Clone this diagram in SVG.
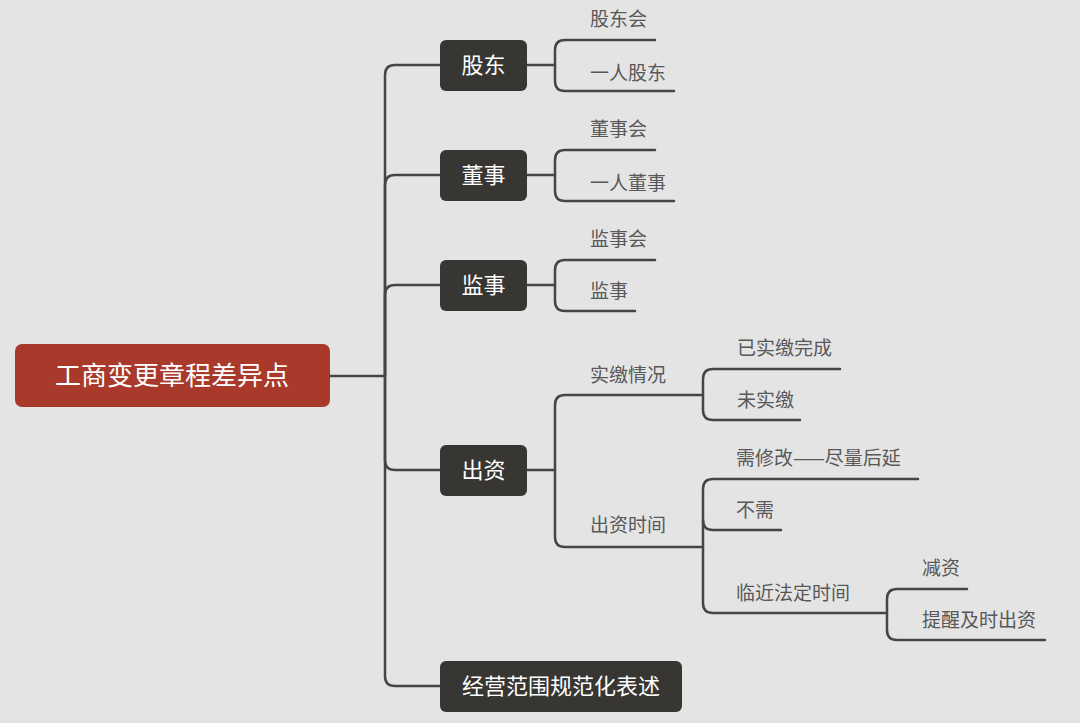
<svg xmlns="http://www.w3.org/2000/svg" width="1080" height="723" viewBox="0 0 1080 723">
<style>
.bg{fill:#e4e4e4}
.ln{fill:none;stroke:#454545;stroke-width:2.5;stroke-linecap:round;stroke-linejoin:round}
.root{fill:#a93a2b}
.box{fill:#373632}
.rt{font-family:"Noto Sans CJK SC","Noto Sans",sans-serif;font-size:26px;fill:#ffffff;text-anchor:middle}
.bt{font-family:"Noto Sans CJK SC","Noto Sans",sans-serif;font-size:22px;fill:#ffffff;text-anchor:middle}
.st{font-family:"Noto Sans CJK SC","Noto Sans",sans-serif;font-size:19px;fill:#585858}
</style>
<rect class="bg" x="0" y="0" width="1080" height="723"/>
<g id="connectors">
<path class="ln" d="M330,376 H385"/>
<path class="ln" d="M440,65 H395 Q385,65 385,75 V676 Q385,686 395,686 H440"/>
<path class="ln" d="M385,376 V185 Q385,175 395,175 H440"/>
<path class="ln" d="M385,376 V295 Q385,285 395,285 H440"/>
<path class="ln" d="M385,376 V460 Q385,470 395,470 H440"/>
<path class="ln" d="M527,65 H555"/>
<path class="ln" d="M655,40 H565 Q555,40 555,50 V81 Q555,91 565,91 H674"/>
<path class="ln" d="M527,175 H555"/>
<path class="ln" d="M655,150 H565 Q555,150 555,160 V191 Q555,201 565,201 H674"/>
<path class="ln" d="M527,285 H555"/>
<path class="ln" d="M655,260 H565 Q555,260 555,270 V301 Q555,311 565,311 H635"/>
<path class="ln" d="M527,470 H555"/>
<path class="ln" d="M703,395 H565 Q555,395 555,405 V537 Q555,547 565,547 H703"/>
<path class="ln" d="M840,369 H713 Q703,369 703,379 V410 Q703,420 713,420 H800"/>
<path class="ln" d="M918,479 H713 Q703,479 703,489 V603 Q703,613 713,613 H887"/>
<path class="ln" d="M703,520 Q703,530 713,530 H781"/>
<path class="ln" d="M967,589 H897 Q887,589 887,599 V630 Q887,640 897,640 H1045"/>
</g>
<g id="root">
<rect class="root" x="15" y="344" width="315" height="63" rx="7"/>
<text class="rt" x="172" y="385">工商变更章程差异点</text>
</g>
<g id="n-gudong">
<rect class="box" x="440" y="40" width="87" height="51" rx="6"/>
<text class="bt" x="483.5" y="73">股东</text>
</g>
<g id="n-dongshi">
<rect class="box" x="440" y="150" width="87" height="51" rx="6"/>
<text class="bt" x="483.5" y="183">董事</text>
</g>
<g id="n-jianshi">
<rect class="box" x="440" y="260" width="87" height="51" rx="6"/>
<text class="bt" x="483.5" y="293">监事</text>
</g>
<g id="n-chuzi">
<rect class="box" x="440" y="445" width="87" height="51" rx="6"/>
<text class="bt" x="483.5" y="478">出资</text>
</g>
<g id="n-jingying">
<rect class="box" x="440" y="661" width="242" height="51" rx="6"/>
<text class="bt" x="561" y="694">经营范围规范化表述</text>
</g>
<g id="t-gudonghui"><text class="st" x="590" y="26">股东会</text></g>
<g id="t-yirengudong"><text class="st" x="590" y="80">一人股东</text></g>
<g id="t-dongshihui"><text class="st" x="590" y="136">董事会</text></g>
<g id="t-yirendongshi"><text class="st" x="590" y="190">一人董事</text></g>
<g id="t-jianshihui"><text class="st" x="590" y="246">监事会</text></g>
<g id="t-jianshi"><text class="st" x="590" y="298">监事</text></g>
<g id="t-shijiao"><text class="st" x="590" y="382">实缴情况</text></g>
<g id="t-chuzishijian"><text class="st" x="590" y="532">出资时间</text></g>
<g id="t-yiwancheng"><text class="st" x="737" y="355">已实缴完成</text></g>
<g id="t-weishijiao"><text class="st" x="737" y="407">未实缴</text></g>
<g id="t-xuxiugai"><text class="st" x="736" y="465">需修改——尽量后延</text></g>
<g id="t-buxu"><text class="st" x="736" y="517">不需</text></g>
<g id="t-linjin"><text class="st" x="736" y="600">临近法定时间</text></g>
<g id="t-jianzi"><text class="st" x="922" y="575">减资</text></g>
<g id="t-tixing"><text class="st" x="922" y="627">提醒及时出资</text></g>
</svg>
